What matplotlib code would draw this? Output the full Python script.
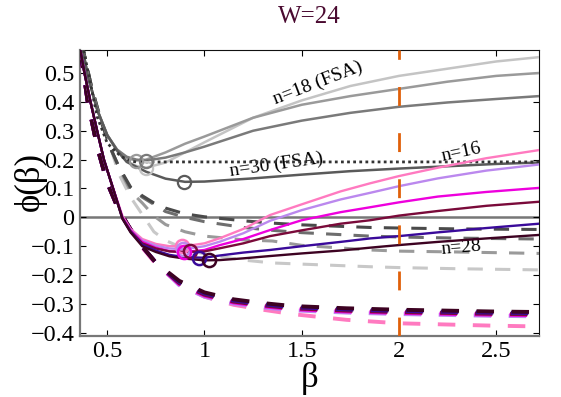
import matplotlib
matplotlib.use("Agg")
import matplotlib.pyplot as plt

plt.rcParams['font.family'] = ['Liberation Serif', 'DejaVu Serif']
plt.rcParams['axes.unicode_minus'] = True

# ---------------- data ----------------
# coloured solid curves (n = 16 ... 28)
xc = [0.362, 0.383, 0.414, 0.448, 0.483, 0.53, 0.578, 0.62, 0.68, 0.75, 0.82, 0.9,
      1.0, 1.08, 1.2, 1.337, 1.5, 1.7, 1.852, 2.0, 2.2, 2.45, 2.72]
y_pink = [0.578, 0.5, 0.4, 0.3, 0.2, 0.102, 0.005, -0.04, -0.075, -0.092, -0.1, -0.1,
          -0.09, -0.072, -0.04, 0.008, 0.045, 0.09, 0.118, 0.143, 0.172, 0.205, 0.233]
y_lav = [0.578, 0.5, 0.4, 0.3, 0.2, 0.1, 0.0, -0.043, -0.08, -0.098, -0.108, -0.11,
         -0.1, -0.084, -0.055, -0.012, 0.025, 0.062, 0.085, 0.108, 0.135, 0.162, 0.183]
y_mag = [0.578, 0.5, 0.4, 0.3, 0.2, 0.1, 0.0, -0.045, -0.085, -0.105, -0.117, -0.12,
         -0.113, -0.096, -0.075, -0.044, -0.01, 0.018, 0.035, 0.052, 0.072, 0.088, 0.102]
y_mar = [0.578, 0.5, 0.4, 0.3, 0.2, 0.1, -0.002, -0.048, -0.09, -0.108, -0.118, -0.12,
         -0.118, -0.107, -0.09, -0.065, -0.045, -0.022, -0.01, 0.006, 0.022, 0.04, 0.054]
y_ind = [0.578, 0.5, 0.4, 0.3, 0.2, 0.1, -0.004, -0.05, -0.095, -0.115, -0.13, -0.138,
         -0.14, -0.132, -0.122, -0.113, -0.1, -0.085, -0.073, -0.065, -0.052, -0.037, -0.022]
y_dmr = [0.578, 0.5, 0.4, 0.3, 0.2, 0.1, -0.005, -0.052, -0.1, -0.12, -0.135, -0.143,
         -0.149, -0.148, -0.142, -0.134, -0.125, -0.115, -0.105, -0.096, -0.085, -0.073, -0.061]
col_names = ['pink', 'lavender', 'magenta', 'maroon', 'indigo', 'darkmaroon']
col_colors = ['#ff7ac0', '#bb88ee', '#ee00dd', '#7a0a3a', '#3a0a9a', '#3d0222']
col_solid = [y_pink, y_lav, y_mag, y_mar, y_ind, y_dmr]
# minima markers of the coloured curves
min_x = [0.883, 0.89, 0.893, 0.928, 0.974, 1.022]
min_y = [-0.1, -0.11, -0.12, -0.118, -0.14, -0.149]

# coloured dashed curves
xcd = [0.362, 0.40, 0.45, 0.50, 0.55, 0.60, 0.66, 0.75, 0.87, 1.0, 1.15, 1.3, 1.45,
       1.73, 2.0, 2.47, 2.72]
yd_base = [0.578, 0.40, 0.24, 0.12, 0.04, -0.02, -0.085, -0.157, -0.22, -0.26, -0.284,
           -0.297, -0.307, -0.315, -0.32, -0.326, -0.328]
yd_pink = [0.578, 0.40, 0.24, 0.12, 0.04, -0.02, -0.088, -0.162, -0.23, -0.275, -0.303,
           -0.32, -0.335, -0.355, -0.367, -0.375, -0.378]
yd_shift = [0.0, -0.015, -0.011, -0.008, -0.004, 0.0]   # lavender, magenta, maroon, indigo, darkmaroon

# grey solid FSA curves
xg = [0.375, 0.40, 0.45, 0.50, 0.55, 0.60, 0.65, 0.70, 0.80, 0.90, 1.0, 1.25, 1.5,
      1.75, 2.0, 2.25, 2.5, 2.72]
yg_light = [0.578, 0.49, 0.37, 0.285, 0.23, 0.195, 0.178, 0.172, 0.19, 0.225, 0.26,
            0.345, 0.405, 0.455, 0.49, 0.515, 0.54, 0.555]
yg_mid = [0.578, 0.49, 0.37, 0.285, 0.235, 0.205, 0.197, 0.2, 0.225, 0.255, 0.28,
          0.345, 0.39, 0.42, 0.445, 0.47, 0.49, 0.5]
yg_dark = [0.578, 0.49, 0.37, 0.285, 0.235, 0.21, 0.2, 0.197, 0.207, 0.225, 0.245,
           0.3, 0.335, 0.362, 0.383, 0.398, 0.41, 0.42]
yg_n30 = [0.578, 0.49, 0.37, 0.285, 0.232, 0.192, 0.175, 0.158, 0.134, 0.123, 0.124,
          0.135, 0.148, 0.16, 0.169, 0.177, 0.185, 0.19]
grey_colors = ['#c4c4c4', '#9a9a9a', '#7a7a7a', '#5a5a5a']
grey_min_x = [0.697, 0.649, 0.697, 0.895]
grey_min_y = [0.172, 0.196, 0.196, 0.123]

# dotted envelope
xdot = [0.379, 0.414, 0.448, 0.50, 0.569, 0.62, 0.65, 2.72]
ydot = [0.578, 0.463, 0.349, 0.257, 0.212, 0.195, 0.192, 0.192]

# grey dashed curves
xgd = [0.37, 0.42, 0.47, 0.52, 0.56, 0.62, 0.68, 0.74, 0.8, 0.9, 1.0, 1.2, 1.35, 1.5,
       1.85, 2.0, 2.3, 2.72]
ygd_1 = [0.6, 0.45, 0.33, 0.235, 0.175, 0.105, 0.075, 0.05, 0.032, 0.012, 0.002,
         -0.012, -0.02, -0.026, -0.035, -0.037, -0.04, -0.042]
ygd_2 = [0.6, 0.45, 0.33, 0.235, 0.175, 0.1, 0.07, 0.045, 0.02, 0.0, -0.015,
         -0.035, -0.045, -0.053, -0.065, -0.068, -0.072, -0.075]
ygd_3 = [0.6, 0.45, 0.33, 0.235, 0.17, 0.09, 0.05, 0.005, -0.025, -0.05, -0.065,
         -0.078, -0.082, -0.097, -0.113, -0.117, -0.12, -0.125]
ygd_4 = [0.6, 0.45, 0.33, 0.235, 0.15, 0.07, 0.01, -0.05, -0.08, -0.11, -0.127,
         -0.148, -0.158, -0.162, -0.171, -0.174, -0.178, -0.182]
gd_colors = ['#4a4a4a', '#6e6e6e', '#9a9a9a', '#c8c8c8']

x_ref = 2.0
xlim = (0.36, 2.72)
ylim = (-0.41, 0.578)
xticks = [0.5, 1, 1.5, 2, 2.5]
xticklabels = ['0.5', '1', '1.5', '2', '2.5']
yticks = [-0.4, -0.3, -0.2, -0.1, 0, 0.1, 0.2, 0.3, 0.4, 0.5]
yticklabels = ['\u22120.4', '\u22120.3', '\u22120.2', '\u22120.1', '0', '0.1', '0.2', '0.3', '0.4', '0.5']

# ---------------- plotting ----------------
fig = plt.figure(figsize=(5.61, 3.97), dpi=100)
ax = fig.add_axes([0.1426, 0.1544, 0.8182, 0.7184])

ax.axhline(0, color='#777777', lw=1.8, zorder=1)

# grey dashed
for y, c in zip([ygd_4, ygd_3, ygd_2, ygd_1], gd_colors[::-1]):
    ax.plot(xgd, y, color=c, lw=2.2, dashes=(5, 4), zorder=2)

# coloured dashed
for i, c in enumerate(col_colors):
    if i == 0:
        y = yd_pink
    else:
        y = [v + yd_shift[i] if xx > 0.8 else v for xx, v in zip(xcd, yd_base)]
    ax.plot(xcd, y, color=c, lw=2.8, dashes=(4.5, 4.5), zorder=3 + i * 0.01)

# grey solid
for y, c in zip([yg_light, yg_mid, yg_dark, yg_n30], grey_colors):
    ax.plot(xg, y, color=c, lw=1.8, zorder=4)
for mx, my, c in zip(grey_min_x, grey_min_y, grey_colors):
    ax.plot([mx], [my], ls='none', marker='o', ms=9.5, mfc='none', mec=c, mew=1.6, zorder=6)

# dotted
ax.plot(xdot, ydot, color='#333333', lw=2.0, ls=(0, (1, 1.2)), zorder=5)

# coloured solid
for y, c in zip(col_solid, col_colors):
    ax.plot(xc, y, color=c, lw=1.7, zorder=7)
for mx, my, c in zip(min_x, min_y, col_colors):
    ax.plot([mx], [my], ls='none', marker='o', ms=9.5, mfc='none', mec=c, mew=1.8, zorder=8)

# orange reference line
ax.plot([x_ref, x_ref], [ylim[0], ylim[1]], color='#e0600a', lw=2.0,
        dashes=(6.8, 9.8), zorder=9)

# annotations
ax.text(1.585, 0.465, 'n=18 (FSA)', rotation=21, fontsize=14, ha='center', va='center')
ax.text(1.37, 0.183, 'n=30 (FSA)', rotation=8, fontsize=14, ha='center', va='center')
ax.text(2.32, 0.225, 'n=16', rotation=12, fontsize=14, ha='center', va='center')
ax.text(2.32, -0.106, 'n=28', rotation=5, fontsize=14, ha='center', va='center')

ax.set_xlim(*xlim)
ax.set_ylim(*ylim)
ax.set_xticks(xticks)
ax.set_xticklabels(xticklabels)
ax.set_yticks(yticks)
ax.set_yticklabels(yticklabels)
ax.tick_params(direction='in', top=True, right=True, length=4, width=0.8,
               labelsize=17.5, pad=4)
for s in ['top', 'right']:
    ax.spines[s].set_color('#111111')
for s in ['left', 'bottom']:
    ax.spines[s].set_color('#777777')
    ax.spines[s].set_linewidth(1.6)

ax.set_xlabel('\u03b2', fontsize=25, labelpad=0)
ax.set_ylabel('\u03d5(\u03b2)', fontsize=25)
ax.yaxis.set_label_coords(-0.072, 0.54)
ax.set_title('W=24', fontsize=18, color='#4a0a30', pad=20)

fig.savefig('out.png', dpi=100)
